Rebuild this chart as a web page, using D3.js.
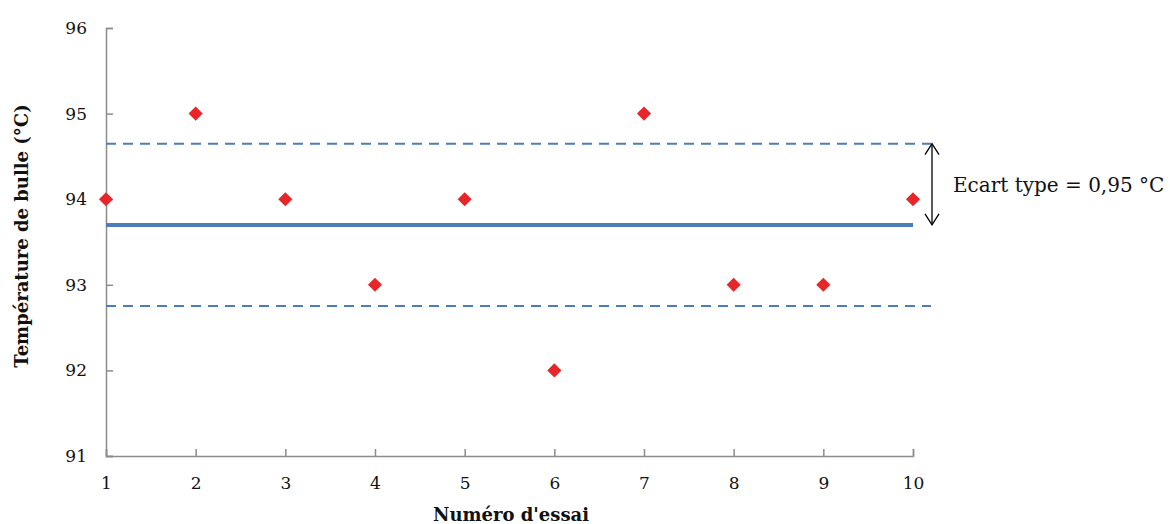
<!DOCTYPE html>
<html>
<head>
<meta charset="utf-8">
<script src="https://cdn.jsdelivr.net/npm/d3@7"></script>
<style>
  html, body { margin: 0; padding: 0; background: #fff; }
  svg { display: block; }
  text { font-family: "DejaVu Serif", "Liberation Serif", serif; fill: #111; }
</style>
</head>
<body>
<svg id="chart" width="1170" height="524"></svg>
<script>
// Essais and measured bubble temperatures (°C)
const trials = [1, 2, 3, 4, 5, 6, 7, 8, 9, 10];
const temperatures = [94, 95, 94, 93, 94, 92, 95, 93, 93, 94];
const yTicks = [91, 92, 93, 94, 95, 96];
const stdDevLabel = "Ecart type = 0,95 °C";

const mean = d3.mean(temperatures);          // 93.7
const sd = d3.deviation(temperatures);        // ≈ 0.95

const svg = d3.select("#chart");
const plotLeft = 106, plotRight = 913, plotTop = 28, plotBottom = 456;
const serif = "DejaVu Serif, Liberation Serif, serif";

const x = d3.scaleLinear().domain([1, 10]).range([plotLeft, plotRight]);
const y = d3.scaleLinear().domain([91, 96]).range([plotBottom, plotTop]);

const axisColor = "#8c8c8c";
const blue = "#4a7ebb";

// Y axis: ticks pointing into the plot
const yAxis = svg.append("g")
  .attr("transform", `translate(${plotLeft},0)`)
  .call(d3.axisLeft(y).tickValues(yTicks).tickSize(-7).tickPadding(19).tickFormat(d3.format("d")));
yAxis.select(".domain").attr("stroke", axisColor).attr("stroke-width", 1.5);
yAxis.selectAll(".tick line").attr("stroke", axisColor).attr("stroke-width", 1.5);
yAxis.selectAll(".tick text").attr("font-size", 17).attr("font-family", serif).attr("fill", "#111");

// X axis: ticks pointing up into the plot
const xAxis = svg.append("g")
  .attr("transform", `translate(0,${plotBottom})`)
  .call(d3.axisBottom(x).tickValues(trials).tickSize(-7).tickPadding(21).tickFormat(d3.format("d")));
xAxis.select(".domain").attr("stroke", axisColor).attr("stroke-width", 1.5);
xAxis.selectAll(".tick line").attr("stroke", axisColor).attr("stroke-width", 1.5);
xAxis.selectAll(".tick text").attr("font-size", 17).attr("font-family", serif).attr("fill", "#111");

// Mean line
svg.append("line")
  .attr("x1", x(1)).attr("x2", x(10))
  .attr("y1", y(mean)).attr("y2", y(mean))
  .attr("stroke", blue).attr("stroke-width", 4);

// Mean ± standard deviation (dashed)
[mean + sd, mean - sd].forEach(v => {
  svg.append("line")
    .attr("x1", x(1)).attr("x2", x(10) + 18)
    .attr("y1", y(v)).attr("y2", y(v))
    .attr("stroke", blue).attr("stroke-width", 2)
    .attr("stroke-dasharray", "10,7");
});

// Data points as red diamonds
svg.append("g").selectAll("path")
  .data(trials.map((t, i) => ({ t, v: temperatures[i] })))
  .join("path")
  .attr("d", d3.symbol().type(d3.symbolSquare).size(100))
  .attr("transform", d => `translate(${x(d.t)},${y(d.v)}) rotate(45)`)
  .attr("fill", "#e8262a");

// Double-headed arrow spanning one standard deviation
const ax = x(10) + 19;
const ay1 = y(mean + sd), ay2 = y(mean);
const arrow = svg.append("g").attr("stroke", "#000").attr("stroke-width", 1.3).attr("fill", "none");
arrow.append("line").attr("x1", ax).attr("x2", ax).attr("y1", ay1).attr("y2", ay2);
arrow.append("path").attr("d", `M${ax - 7},${ay1 + 11} L${ax},${ay1} L${ax + 7},${ay1 + 11}`);
arrow.append("path").attr("d", `M${ax - 7},${ay2 - 11} L${ax},${ay2} L${ax + 7},${ay2 - 11}`);

svg.append("text")
  .attr("x", ax + 21).attr("y", 192)
  .attr("font-size", 20)
  .text(stdDevLabel);

// Axis titles
svg.append("text")
  .attr("x", 511).attr("y", 521)
  .attr("text-anchor", "middle")
  .attr("font-size", 18).attr("font-weight", "bold")
  .text("Numéro d'essai");

svg.append("text")
  .attr("transform", `translate(28,236) rotate(-90)`)
  .attr("text-anchor", "middle")
  .attr("font-size", 18).attr("font-weight", "bold")
  .text("Température de bulle (°C)");
</script>
</body>
</html>
